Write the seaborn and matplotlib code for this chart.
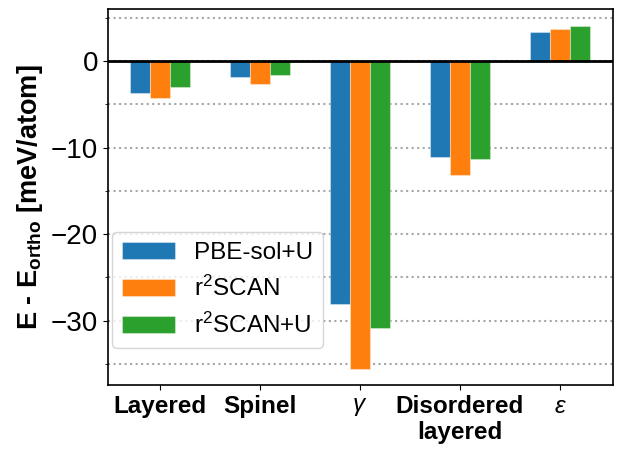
import pandas as pd
import matplotlib
matplotlib.use('Agg')
import matplotlib.pyplot as plt
import seaborn as sns
from matplotlib.ticker import MultipleLocator

# energies relative to orthorhombic phase, meV/atom
phases = ['Layered', 'Spinel', r'$\gamma$', 'Disordered\nlayered', r'$\varepsilon$']
methods = ['PBE-sol+U', r'r$^2$SCAN', r'r$^2$SCAN+U']
pbesol_u = [-3.7, -1.8, -28.1, -11.1, 3.4]
r2scan = [-4.3, -2.7, -35.6, -13.2, 3.7]
r2scan_u = [-3.0, -1.6, -30.8, -11.3, 4.0]

rows = []
for vals, m in zip([pbesol_u, r2scan, r2scan_u], methods):
    for p, v in zip(phases, vals):
        rows.append({'phase': p, 'method': m, 'dE': v})
df = pd.DataFrame(rows)

sns.set_style('ticks')
plt.rcParams['font.family'] = ['Liberation Sans', 'DejaVu Sans']
plt.rcParams['mathtext.fontset'] = 'custom'
plt.rcParams['mathtext.rm'] = 'Liberation Sans'
plt.rcParams['mathtext.it'] = 'Liberation Sans:italic'
plt.rcParams['mathtext.bf'] = 'Liberation Sans:bold'
for k in ['text.color', 'axes.labelcolor', 'xtick.color', 'ytick.color']:
    plt.rcParams[k] = 'black'

fig, ax = plt.subplots(figsize=(6.23, 4.57), dpi=100)
sns.barplot(data=df, x='phase', y='dE', hue='method', palette='tab10',
            saturation=1, width=0.6, ax=ax, zorder=3)
for p in ax.patches:
    p.set_edgecolor((1, 1, 1, 0.35))
    p.set_linewidth(0.8)

ax.axhline(0, color='black', lw=2, zorder=4)
ax.set_xlim(-0.52, 4.53)
ax.set_ylim(-37.4, 6.0)
ax.yaxis.set_major_locator(MultipleLocator(10))
ax.yaxis.set_minor_locator(MultipleLocator(5))
ax.grid(axis='y', which='both', ls=':', lw=1.5, color='gray', alpha=0.7, zorder=0)
ax.set_axisbelow(True)

ax.set_xlabel('')
ax.set_ylabel(r'E - E$_{\bf ortho}$ [meV/atom]', fontsize=19.5, fontweight='bold')
ax.tick_params(axis='y', labelsize=20)
ax.tick_params(axis='x', labelsize=17.5)
for t in ax.get_xticklabels():
    t.set_fontweight('bold')
for s in ax.spines.values():
    s.set_visible(True)
    s.set_color('black')
    s.set_linewidth(1.2)

ax.legend(loc='lower left', bbox_to_anchor=(0.008, 0.098), borderaxespad=0,
          fontsize=17.5, handlelength=2.2, framealpha=0.8)

plt.subplots_adjust(left=0.173, right=0.984, top=0.980, bottom=0.158)
plt.savefig('out.png', dpi=100)
plt.close()
